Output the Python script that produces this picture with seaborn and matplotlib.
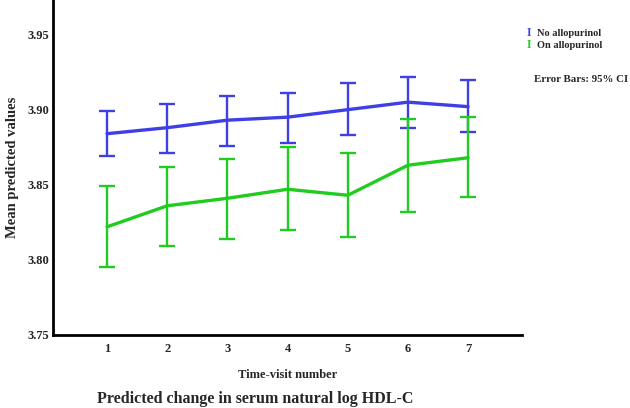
import numpy as np
import pandas as pd
import matplotlib
matplotlib.use('Agg')
import matplotlib.pyplot as plt
import seaborn as sns

# Data
visits = [1, 2, 3, 4, 5, 6, 7]
no_allo_mean = [3.884, 3.888, 3.893, 3.895, 3.900, 3.905, 3.902]
no_allo_low = [3.869, 3.871, 3.876, 3.878, 3.883, 3.888, 3.885]
no_allo_high = [3.899, 3.904, 3.909, 3.911, 3.918, 3.922, 3.920]
on_allo_mean = [3.822, 3.836, 3.841, 3.847, 3.843, 3.863, 3.868]
on_allo_low = [3.795, 3.809, 3.814, 3.820, 3.815, 3.832, 3.842]
on_allo_high = [3.849, 3.862, 3.867, 3.875, 3.871, 3.894, 3.895]
groups = ['No allopurinol', 'On allopurinol']
colors = {'No allopurinol': '#3f3fe6', 'On allopurinol': '#1fcc1f'}

df = pd.DataFrame({
    'visit': visits * 2,
    'mean': no_allo_mean + on_allo_mean,
    'low': no_allo_low + on_allo_low,
    'high': no_allo_high + on_allo_high,
    'group': [groups[0]] * 7 + [groups[1]] * 7,
})

sns.set_style('white')
plt.rcParams['font.family'] = ['Liberation Serif', 'DejaVu Serif']
plt.rcParams['font.weight'] = 'bold'

fig = plt.figure(figsize=(6.3, 4.08), dpi=100)
ax = fig.add_axes([0.084, 0.179, 0.745, 0.821])

sns.lineplot(data=df, x='visit', y='mean', hue='group', palette=colors,
             linewidth=2.4, legend=False, ax=ax)

for g in groups:
    sub = df[df['group'] == g]
    yerr = [sub['mean'] - sub['low'], sub['high'] - sub['mean']]
    ax.errorbar(sub['visit'], sub['mean'], yerr=yerr, fmt='none',
                ecolor=colors[g], elinewidth=1.7, capsize=5.5, capthick=1.7)

ax.set_xlim(0.1, 7.9)
ax.set_ylim(3.75, 3.973)
ax.set_xticks(visits)
ax.set_yticks([3.75, 3.80, 3.85, 3.90, 3.95])
ax.set_yticklabels(['3.75', '3.80', '3.85', '3.90', '3.95'])
ax.tick_params(axis='x', length=0, labelsize=9, pad=6)
ax.tick_params(axis='y', length=0, labelsize=9, pad=3)
for lbl in ax.get_xticklabels() + ax.get_yticklabels():
    lbl.set_fontweight('bold')

sns.despine(ax=ax)
for s in ['left', 'bottom']:
    ax.spines[s].set_linewidth(2)
    ax.spines[s].set_color('black')

ax.set_xlabel('Time-visit number', fontsize=9, fontweight='bold', labelpad=10)
ax.set_ylabel('Mean predicted values', fontsize=10.5, fontweight='bold', labelpad=6)

fig.text(0.405, 0.022, 'Predicted change in serum natural log HDL-C',
         ha='center', va='center', fontsize=11.5, fontweight='bold')

# legend-like labels
for i, g in enumerate(groups):
    y = 0.919 - i * 0.03
    fig.text(0.836, y, 'I', color=colors[g], fontsize=8.5, fontweight='bold', va='center')
    fig.text(0.853, y, g, fontsize=7.5, fontweight='bold', va='center')
fig.text(0.847, 0.804, 'Error Bars: 95% CI', fontsize=7.8, fontweight='bold', va='center')

fig.savefig('out.png', dpi=100)
